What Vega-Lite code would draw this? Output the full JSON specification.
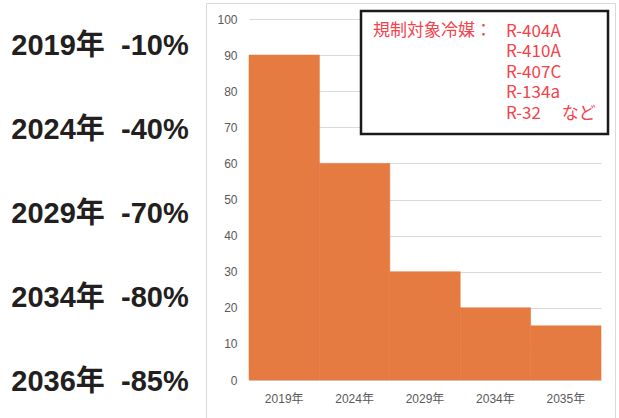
{
  "$schema": "https://vega.github.io/schema/vega-lite/v6.json",
  "padding": {"left": 0, "top": 2, "right": 0, "bottom": 0},
  "background": "white",
  "spacing": 6,
  "bounds": "flush",
  "resolve": {"legend": {"color": "independent"}},
  "config": {"view": {"stroke": null}, "font": "Liberation Sans", "legend": {"strokeWidth": 2.5}},
  "hconcat": [
    {
      "width": 200,
      "height": 420,
      "data": {"values": [
        {"label": "2019年\u00a0 -10%"},
        {"label": "2024年\u00a0 -40%"},
        {"label": "2029年\u00a0 -70%"},
        {"label": "2034年\u00a0 -80%"},
        {"label": "2036年\u00a0 -85%"}
      ]},
      "mark": {"type": "text", "align": "center", "baseline": "middle", "font": "'Liberation Sans Narrow', 'Liberation Sans', 'Noto Sans CJK JP', sans-serif", "fontSize": 29, "fontWeight": "bold", "color": "#231f20"},
      "encoding": {
        "y": {"field": "label", "type": "nominal", "sort": null, "scale": {"type": "point", "range": [43, 379], "padding": 0}, "axis": null},
        "text": {"field": "label"}
      }
    },
    {
      "width": 409,
      "height": 420,
      "view": {"stroke": "#d9d9d9", "strokeWidth": 1},
      "layer": [
        {
          "data": {"values": [
            {"year": "2019年", "value": 90},
            {"year": "2024年", "value": 60},
            {"year": "2029年", "value": 30},
            {"year": "2034年", "value": 20},
            {"year": "2035年", "value": 15}
          ]},
          "mark": {"type": "bar", "color": "#e57b40", "stroke": "#e57b40", "strokeWidth": 0.6},
          "encoding": {
            "x": {
              "field": "year", "type": "nominal", "sort": null,
              "scale": {"type": "band", "range": [43, 395], "paddingInner": 0, "paddingOuter": 0},
              "axis": {"title": null, "offset": -43, "ticks": false, "domain": true, "domainColor": "#d9d9d9", "labelPadding": 13, "labelFontSize": 12, "labelColor": "#595959", "labelAngle": 0, "labelFont": "'Liberation Sans', 'Noto Sans CJK JP', sans-serif"}
            },
            "y": {
              "field": "value", "type": "quantitative",
              "scale": {"domain": [0, 100], "range": [377, 16], "nice": false},
              "axis": {"title": null, "offset": -43, "ticks": false, "domain": false, "grid": true, "gridColor": "#d9d9d9", "gridWidth": 1, "values": [0, 10, 20, 30, 40, 50, 60, 70, 80, 90, 100], "labelPadding": 12, "labelFontSize": 12, "labelColor": "#595959", "labelFont": "Liberation Sans"}
            }
          }
        },
        {
          "data": {"values": [
            {"refrigerant": "R-404A"},
            {"refrigerant": "R-410A"},
            {"refrigerant": "R-407C"},
            {"refrigerant": "R-134a"},
            {"refrigerant": "R-32　 など"}
          ]},
          "mark": {"type": "point", "opacity": 0},
          "encoding": {
            "color": {
              "field": "refrigerant", "type": "nominal", "sort": null,
              "scale": {"range": ["#f5424b", "#f5424b", "#f5424b", "#f5424b", "#f5424b"]},
              "legend": {
                "title": "規制対象冷媒：",
                "orient": "none", "legendX": 155, "legendY": 8,
                "titleOrient": "left", "titleAnchor": "start", "titleBaseline": "top",
                "titleColor": "#f5424b", "titleFont": "Noto Sans CJK JP", "titleFontSize": 17, "titleFontWeight": "normal", "titlePadding": -3,
                "labelColor": "#f5424b", "labelFont": "Noto Sans CJK JP", "labelFontSize": 17, "labelOffset": 0, "labelLimit": 0,
                "symbolSize": 0, "symbolOpacity": 0, "symbolStrokeWidth": 0,
                "rowPadding": 2.5, "padding": 12,
                "strokeColor": "#1a1a1a", "fillColor": "white", "cornerRadius": 0
              }
            }
          }
        }
      ]
    }
  ]
}
